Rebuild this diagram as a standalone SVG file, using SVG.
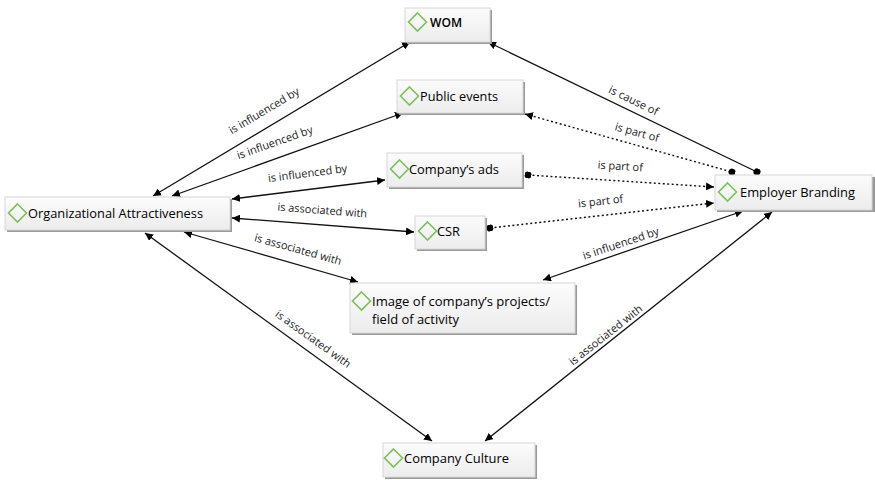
<svg xmlns="http://www.w3.org/2000/svg" width="875" height="480" viewBox="0 0 875 480">
<style>
.box{fill:url(#g);stroke:#d6d6d6;stroke-width:1}
.sh{fill:#9a9a9a}
.dm{fill:none;stroke:#7cc05a;stroke-width:1.6}
.nt{font-family:"Open Sans","Noto Sans",sans-serif;font-size:13px;fill:#000}
.lb{font-family:"Open Sans","Noto Sans",sans-serif;font-size:11px;fill:#222}
.ln{stroke:#111;stroke-width:1.3;fill:none}
.dt{stroke:#111;stroke-width:1.4;fill:none;stroke-dasharray:2 2.5}
</style>
<defs>
<linearGradient id="g" x1="0" y1="0" x2="0" y2="1">
<stop offset="0" stop-color="#fcfcfc"/>
<stop offset="1" stop-color="#ececec"/>
</linearGradient>
<marker id="ar" viewBox="0 0 10 10" refX="10" refY="5" markerWidth="8" markerHeight="8" markerUnits="userSpaceOnUse" orient="auto-start-reverse">
<path d="M0,0 L10,5 L0,10 z" fill="#000"/>
</marker>
<marker id="dot" viewBox="0 0 10 10" refX="5" refY="5" markerWidth="7" markerHeight="7" markerUnits="userSpaceOnUse" orient="auto">
<circle cx="5" cy="5" r="5" fill="#000"/>
</marker>
</defs>
<rect width="875" height="480" fill="#fff"/>
<g id="connectors">
<line class="ln" x1="410" y1="42" x2="153" y2="196" marker-start="url(#ar)" marker-end="url(#ar)"/>
<line class="ln" x1="403" y1="113" x2="172" y2="196" marker-start="url(#ar)" marker-end="url(#ar)"/>
<line class="ln" x1="385" y1="180" x2="232" y2="199" marker-start="url(#ar)" marker-end="url(#ar)"/>
<line class="ln" x1="232" y1="218" x2="414" y2="232" marker-start="url(#ar)" marker-end="url(#ar)"/>
<line class="ln" x1="184" y1="232" x2="358" y2="282" marker-start="url(#ar)" marker-end="url(#ar)"/>
<line class="ln" x1="145" y1="233" x2="432" y2="441" marker-start="url(#ar)" marker-end="url(#ar)"/>
<line class="ln" x1="488" y1="42" x2="757" y2="172" marker-start="url(#ar)" marker-end="url(#dot)"/>
<line class="dt" x1="525" y1="114" x2="732" y2="172" marker-start="url(#ar)" marker-end="url(#dot)"/>
<line class="dt" x1="528" y1="175" x2="714" y2="187" marker-start="url(#dot)" marker-end="url(#ar)"/>
<line class="dt" x1="490" y1="228" x2="714" y2="203" marker-start="url(#dot)" marker-end="url(#ar)"/>
<line class="ln" x1="543" y1="280" x2="743" y2="211" marker-start="url(#ar)" marker-end="url(#ar)"/>
<line class="ln" x1="485" y1="441" x2="772" y2="212" marker-start="url(#ar)" marker-end="url(#ar)"/>
<text class="lb" transform="translate(266,114) rotate(-30.8)" text-anchor="middle">is influenced by</text>
<text class="lb" transform="translate(276,146) rotate(-19.5)" text-anchor="middle">is influenced by</text>
<text class="lb" transform="translate(308,177) rotate(-7.3)" text-anchor="middle">is influenced by</text>
<text class="lb" transform="translate(322,214) rotate(4.4)" text-anchor="middle">is associated with</text>
<text class="lb" transform="translate(297,253) rotate(15.5)" text-anchor="middle">is associated with</text>
<text class="lb" transform="translate(311,342) rotate(35.7)" text-anchor="middle">is associated with</text>
<text class="lb" transform="translate(632,104) rotate(25.8)" text-anchor="middle">is cause of</text>
<text class="lb" transform="translate(636,136) rotate(15.6)" text-anchor="middle">is part of</text>
<text class="lb" transform="translate(620,170) rotate(3.7)" text-anchor="middle">is part of</text>
<text class="lb" transform="translate(601,205) rotate(-6.4)" text-anchor="middle">is part of</text>
<text class="lb" transform="translate(622,247) rotate(-18.6)" text-anchor="middle">is influenced by</text>
<text class="lb" transform="translate(608,338) rotate(-38.3)" text-anchor="middle">is associated with</text>
</g>
<g id="wom">
<rect class="sh" x="407" y="10" width="85" height="34"/>
<rect class="box" x="405" y="8" width="85" height="34"/>
<path class="dm" d="M417.5,13 L426.5,22 L417.5,31 L408.5,22 Z"/>
<text class="nt" x="430" y="27" textLength="32" lengthAdjust="spacingAndGlyphs" font-weight="600">WOM</text>
</g>
<g id="public-events">
<rect class="sh" x="399" y="82" width="126" height="33"/>
<rect class="box" x="397" y="80" width="126" height="33"/>
<path class="dm" d="M409.5,87 L418.5,96 L409.5,105 L400.5,96 Z"/>
<text class="nt" x="420" y="101" textLength="78" lengthAdjust="spacingAndGlyphs">Public events</text>
</g>
<g id="companys-ads">
<rect class="sh" x="389" y="155" width="135" height="34"/>
<rect class="box" x="387" y="153" width="135" height="34"/>
<path class="dm" d="M399.5,160 L408.5,169 L399.5,178 L390.5,169 Z"/>
<text class="nt" x="409" y="174" textLength="90" lengthAdjust="spacingAndGlyphs">Company’s ads</text>
</g>
<g id="csr">
<rect class="sh" x="417" y="218" width="70" height="33"/>
<rect class="box" x="415" y="216" width="70" height="33"/>
<path class="dm" d="M427.5,222 L436.5,231 L427.5,240 L418.5,231 Z"/>
<text class="nt" x="437" y="236" textLength="23" lengthAdjust="spacingAndGlyphs">CSR</text>
</g>
<g id="organizational-attractiveness">
<rect class="sh" x="7" y="199" width="225" height="33"/>
<rect class="box" x="5" y="197" width="225" height="33"/>
<path class="dm" d="M17.5,204 L26.5,213 L17.5,222 L8.5,213 Z"/>
<text class="nt" x="28" y="218" textLength="175" lengthAdjust="spacingAndGlyphs">Organizational Attractiveness</text>
</g>
<g id="employer-branding">
<rect class="sh" x="717" y="177" width="158" height="35"/>
<rect class="box" x="715" y="175" width="157" height="35"/>
<path class="dm" d="M727.5,183 L736.5,192 L727.5,201 L718.5,192 Z"/>
<text class="nt" x="740" y="197" textLength="115" lengthAdjust="spacingAndGlyphs">Employer Branding</text>
</g>
<g id="image-of-companys-projects">
<rect class="sh" x="352" y="285" width="225" height="50"/>
<rect class="box" x="350" y="283" width="225" height="50"/>
<path class="dm" d="M361.5,292 L370.5,301 L361.5,310 L352.5,301 Z"/>
<text class="nt" x="372" y="306" textLength="178" lengthAdjust="spacingAndGlyphs">Image of company’s projects/</text>
<text class="nt" x="372" y="324" textLength="87" lengthAdjust="spacingAndGlyphs">field of activity</text>
</g>
<g id="company-culture">
<rect class="sh" x="385" y="445" width="152" height="34"/>
<rect class="box" x="383" y="443" width="152" height="34"/>
<path class="dm" d="M393.5,449 L402.5,458 L393.5,467 L384.5,458 Z"/>
<text class="nt" x="404" y="463" textLength="105" lengthAdjust="spacingAndGlyphs">Company Culture</text>
</g>
</svg>
